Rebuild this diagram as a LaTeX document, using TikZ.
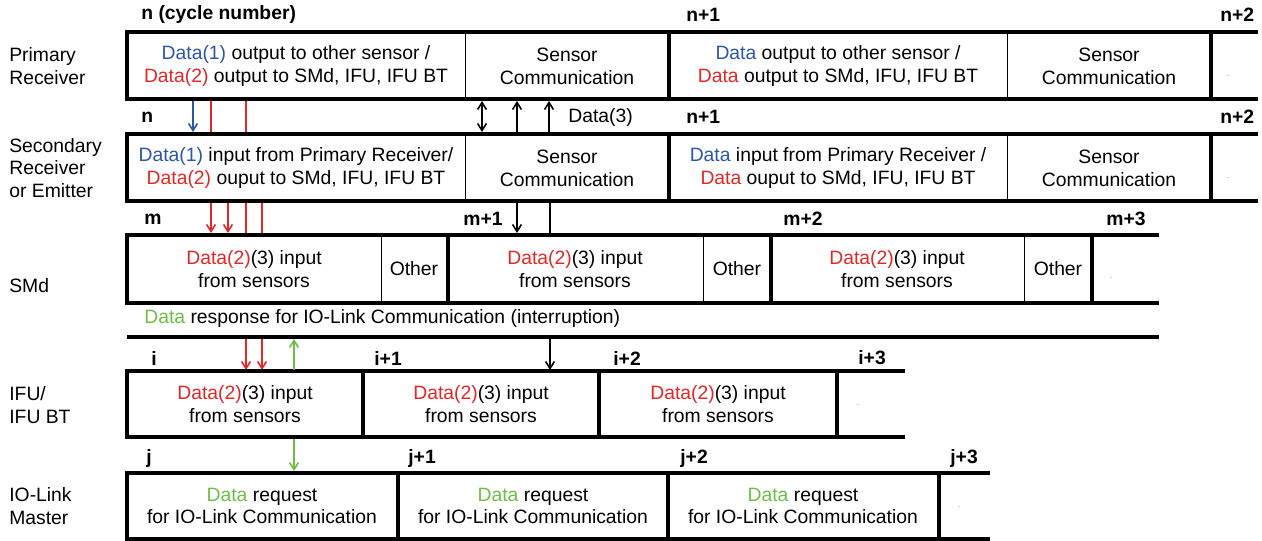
\documentclass[tikz,border=0pt]{standalone}
\usepackage{fontspec}
\setmainfont{Liberation Sans}
\usetikzlibrary{arrows.meta}

\definecolor{datablue}{RGB}{45,85,170}
\definecolor{datared}{RGB}{228,38,38}
\definecolor{datagreen}{RGB}{110,190,70}

\tikzset{
	rowline/.style = {line width = #1},
	divider/.style = {line width = 0.5pt},
	sigline/.style = {line width = 0.9pt},
	cell/.style = {align = center, inner sep = 0, font = \fontsize{11}{13}\selectfont},
	cyc/.style = {anchor = west, inner sep = 0, font = \fontsize{11}{13}\selectfont\bfseries},
	who/.style = {anchor = west, align = left, inner sep = 0, font = \fontsize{11}{13}\selectfont},
	speck/.style = {inner sep = 0, text = black!25, font = \tiny}
}

\begin{document}
\begin{tikzpicture}[x = 0.02cm, y = -0.02cm, >={Straight Barb[length = 4pt, width = 5pt]}]
	\useasboundingbox (0, 0) rectangle (1262, 541);

	\node[who] (lpr) at (9, 66) {Primary\\Receiver};
	\node[who] (lse) at (9, 168) {Secondary\\Receiver\\or Emitter};
	\node[who] (lsm) at (9, 286) {SMd};
	\node[who] (lif) at (9, 405) {IFU/\\IFU BT};
	\node[who] (lio) at (9, 506) {IO-Link\\Master};

	\draw[rowline = 2.8pt] (1258, 32) -- (127, 32) -- (127, 99) -- (1258, 99);
	\draw[rowline = 2.8pt] (669, 32) -- (669, 99) (1211, 32) -- (1211, 99);
	\draw[divider] (465, 32) -- (465, 99) (1007, 32) -- (1007, 99);

	\draw[rowline = 2.8pt] (1258, 134) -- (127, 134) -- (127, 201) -- (1258, 201);
	\draw[rowline = 2.8pt] (669, 134) -- (669, 201) (1211, 134) -- (1211, 201);
	\draw[divider] (465, 134) -- (465, 201) (1007, 134) -- (1007, 201);

	\draw[rowline = 2.3pt] (1159, 235) -- (127, 235) -- (127, 303) -- (1159, 303);
	\draw[rowline = 2.3pt] (448, 235) -- (448, 303) (771, 235) -- (771, 303) (1092, 235) -- (1092, 303);
	\draw[divider] (381, 235) -- (381, 303) (703, 235) -- (703, 303) (1024, 235) -- (1024, 303);
	\draw[rowline = 2.3pt] (127, 337) -- (1159, 337);

	\draw[rowline = 1.9pt] (905, 371) -- (127, 371) -- (127, 437) -- (905, 437);
	\draw[rowline = 1.9pt] (363, 371) -- (363, 437) (599, 371) -- (599, 437) (837, 371) -- (837, 437);

	\draw[rowline = 1.9pt] (990, 473) -- (127, 473) -- (127, 539) -- (990, 539);
	\draw[rowline = 1.9pt] (398, 473) -- (398, 539) (668, 473) -- (668, 539) (939, 473) -- (939, 539);

	\node[cyc] (n0) at (141, 15) {n (cycle number)};
	\node[cyc] (n1) at (686, 15) {n+1};
	\node[cyc] (n2) at (1220, 15) {n+2};
	\node[cyc] (sn0) at (141, 117) {n};
	\node[cyc] (sn1) at (686, 117) {n+1};
	\node[cyc] (sn2) at (1220, 117) {n+2};
	\node[cell, anchor = west] (d3) at (568, 117) {Data(3)};
	\node[cyc] (m0) at (144, 219) {m};
	\node[cyc] (m1) at (463, 219) {m+1};
	\node[cyc] (m2) at (783, 219) {m+2};
	\node[cyc] (m3) at (1106, 219) {m+3};
	\node[cell, anchor = west] (resp) at (144, 319) {\textcolor{datagreen}{Data} response for IO-Link Communication (interruption)};
	\node[cyc] (i0) at (151, 358) {i};
	\node[cyc] (i1) at (374, 358) {i+1};
	\node[cyc] (i2) at (613, 358) {i+2};
	\node[cyc] (i3) at (858, 358) {i+3};
	\node[cyc] (j0) at (146, 458) {j};
	\node[cyc] (j1) at (408, 458) {j+1};
	\node[cyc] (j2) at (680, 458) {j+2};
	\node[cyc] (j3) at (950, 458) {j+3};

	\node[cell] (pr1) at (296, 66) {\textcolor{datablue}{Data(1)} output to other sensor /\\\textcolor{datared}{Data(2)} output to SMd, IFU, IFU BT};
	\node[cell] (pr2) at (567, 66) {Sensor\\Communication};
	\node[cell] (pr3) at (838, 66) {\textcolor{datablue}{Data} output to other sensor /\\\textcolor{datared}{Data} output to SMd, IFU, IFU BT};
	\node[cell] (pr4) at (1109, 66) {Sensor\\Communication};
	\node[speck] (pr5) at (1228, 77) {-};

	\node[cell] (se1) at (296, 168) {\textcolor{datablue}{Data(1)} input from Primary Receiver/\\\textcolor{datared}{Data(2)} ouput to SMd, IFU, IFU BT};
	\node[cell] (se2) at (567, 168) {Sensor\\Communication};
	\node[cell] (se3) at (838, 168) {\textcolor{datablue}{Data} input from Primary Receiver /\\\textcolor{datared}{Data} ouput to SMd, IFU, IFU BT};
	\node[cell] (se4) at (1109, 168) {Sensor\\Communication};
	\node[speck] (se5) at (1228, 179) {-};

	\foreach \x/\o [count = \k] in {254/414, 575/737, 897/1058} {
		\node[cell] (smd\k) at (\x, 269) {\textcolor{datared}{Data(2)}(3) input\\from sensors};
		\node[cell] (oth\k) at (\o, 269) {Other};
	}
	\node[speck] (smd4) at (1111, 279) {-};

	\foreach \x [count = \k] in {245, 481, 718}
		\node[cell] (ifu\k) at (\x, 404) {\textcolor{datared}{Data(2)}(3) input\\from sensors};
	\node[speck] (ifu4) at (858, 406) {-};

	\foreach \x [count = \k] in {262, 533, 803}
		\node[cell] (iol\k) at (\x, 506) {\textcolor{datagreen}{Data} request\\for IO-Link Communication};
	\node[speck] (iol4) at (959, 508) {-};

	\foreach \x in {193, 211, 246, 482, 517, 549} {
		\coordinate (up\x) at (\x, 101);
		\coordinate (dn\x) at (\x, 132);
	}
	\draw[sigline, datablue, ->] (up193) -- (dn193);
	\draw[sigline, datared] (up211) -- (dn211);
	\draw[sigline, datared] (up246) -- (dn246);
	\draw[sigline, <->] (up482) -- (dn482);
	\draw[sigline, <-] (up517) -- (dn517);
	\draw[sigline, <-] (up549) -- (dn549);

	\foreach \x in {211, 228, 246, 262, 517, 550} {
		\coordinate (su\x) at (\x, 203);
		\coordinate (sd\x) at (\x, 233);
	}
	\draw[sigline, datared, ->] (su211) -- (sd211);
	\draw[sigline, datared, ->] (su228) -- (sd228);
	\draw[sigline, datared] (su246) -- (sd246);
	\draw[sigline, datared] (su262) -- (sd262);
	\draw[sigline, ->] (su517) -- (sd517);
	\draw[sigline] (su550) -- (sd550);

	\foreach \x in {246, 262, 294, 550} {
		\coordinate (iu\x) at (\x, 339);
		\coordinate (id\x) at (\x, 370);
	}
	\draw[sigline, datared, ->] (iu246) -- (id246);
	\draw[sigline, datared, ->] (iu262) -- (id262);
	\draw[sigline, datagreen, <-] (iu294) -- (id294);
	\draw[sigline, ->] (iu550) -- (id550);

	\coordinate (ju294) at (294, 439);
	\coordinate (jd294) at (294, 471);
	\draw[sigline, datagreen, ->] (ju294) -- (jd294);
\end{tikzpicture}
\end{document}
